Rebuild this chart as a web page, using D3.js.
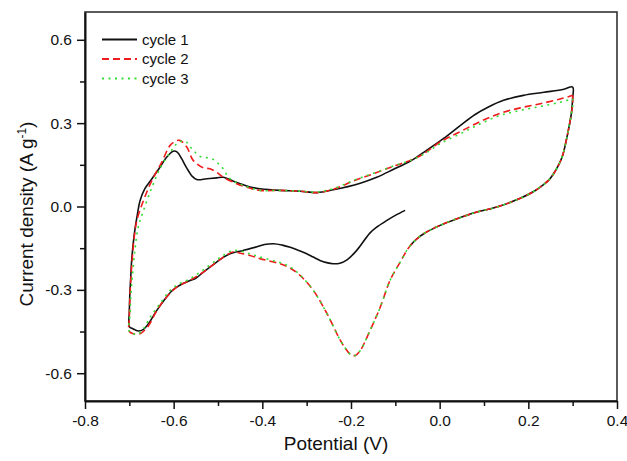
<!DOCTYPE html>
<html>
<head>
<meta charset="utf-8">
<script src="https://cdn.jsdelivr.net/npm/d3@7"></script>
<style>
  body { margin: 0; background: #fff; }
  text { font-family: Arial, "Liberation Sans", sans-serif; fill: #111; }
</style>
</head>
<body>
<svg id="chart"></svg>
<script>
// CV curves, [potential V, current density A/g]
const cycle1 = [
  [-0.078,-0.014],[-0.100,-0.032],[-0.119,-0.050],[-0.140,-0.072],[-0.157,-0.095],
  [-0.187,-0.158],[-0.209,-0.192],[-0.225,-0.204],[-0.240,-0.206],[-0.255,-0.202],
  [-0.270,-0.194],[-0.285,-0.182],[-0.300,-0.170],[-0.320,-0.157],[-0.337,-0.147],[-0.355,-0.139],
  [-0.375,-0.134],[-0.395,-0.137],[-0.412,-0.145],[-0.443,-0.158],[-0.473,-0.170],[-0.490,-0.185],
  [-0.503,-0.200],[-0.533,-0.236],[-0.550,-0.258],[-0.563,-0.266],[-0.580,-0.278],[-0.593,-0.290],
  [-0.605,-0.305],[-0.616,-0.326],[-0.638,-0.374],[-0.657,-0.422],[-0.668,-0.442],[-0.680,-0.448],
  [-0.692,-0.440],[-0.700,-0.432],[-0.700,-0.380],[-0.699,-0.320],[-0.697,-0.260],[-0.695,-0.200],
  [-0.691,-0.130],[-0.687,-0.079],[-0.682,-0.030],[-0.676,0.020],[-0.665,0.064],[-0.649,0.100],
  [-0.631,0.141],[-0.616,0.177],[-0.601,0.199],[-0.592,0.196],[-0.582,0.172],[-0.574,0.148],
  [-0.565,0.124],[-0.559,0.110],[-0.548,0.097],[-0.525,0.100],[-0.503,0.103],[-0.488,0.105],
  [-0.473,0.096],[-0.450,0.082],[-0.428,0.070],[-0.405,0.064],[-0.360,0.058],[-0.315,0.055],
  [-0.277,0.050],[-0.240,0.060],[-0.179,0.084],[-0.142,0.105],[-0.104,0.134],[-0.066,0.164],
  [-0.036,0.195],[0.009,0.245],[0.047,0.292],[0.080,0.331],[0.110,0.358],[0.144,0.382],
  [0.189,0.400],[0.235,0.411],[0.280,0.422],[0.300,0.430],[0.300,0.390],[0.297,0.334],
  [0.291,0.280],[0.287,0.249],[0.281,0.205],[0.276,0.177],[0.267,0.145],[0.257,0.118],
  [0.246,0.095],[0.235,0.080],[0.212,0.054],[0.175,0.025],[0.129,-0.002],[0.084,-0.020],
  [0.039,-0.044],[0.001,-0.068],[-0.036,-0.098],[-0.052,-0.117],[-0.066,-0.140]
];

const cycle2 = [
  [0.300,0.400],[0.300,0.370],[0.297,0.334],[0.291,0.280],[0.287,0.249],[0.281,0.205],
  [0.276,0.177],[0.267,0.145],[0.257,0.118],[0.246,0.095],[0.235,0.080],[0.212,0.054],
  [0.175,0.025],[0.129,-0.002],[0.084,-0.020],[0.039,-0.044],[0.001,-0.068],[-0.036,-0.098],
  [-0.066,-0.140],[-0.089,-0.200],[-0.112,-0.266],[-0.134,-0.362],[-0.157,-0.446],[-0.179,-0.518],
  [-0.190,-0.536],[-0.200,-0.534],[-0.212,-0.512],[-0.224,-0.482],[-0.254,-0.386],[-0.285,-0.302],
  [-0.315,-0.248],[-0.337,-0.222],[-0.360,-0.206],[-0.405,-0.188],[-0.428,-0.176],[-0.450,-0.168],
  [-0.465,-0.163],[-0.490,-0.185],[-0.503,-0.200],[-0.533,-0.236],[-0.563,-0.266],[-0.593,-0.290],
  [-0.616,-0.326],[-0.638,-0.374],[-0.657,-0.430],[-0.676,-0.458],[-0.690,-0.458],[-0.700,-0.450],
  [-0.700,-0.400],[-0.698,-0.300],[-0.694,-0.200],[-0.689,-0.110],[-0.683,-0.050],[-0.668,0.022],
  [-0.649,0.094],[-0.627,0.159],[-0.608,0.220],[-0.595,0.236],[-0.586,0.238],[-0.570,0.213],
  [-0.556,0.166],[-0.533,0.139],[-0.518,0.136],[-0.503,0.123],[-0.488,0.105],[-0.465,0.087],
  [-0.435,0.069],[-0.405,0.058],[-0.360,0.058],[-0.315,0.055],[-0.277,0.050],[-0.240,0.062],
  [-0.194,0.092],[-0.149,0.118],[-0.104,0.145],[-0.066,0.166],[-0.036,0.190],[0.001,0.232],
  [0.047,0.270],[0.092,0.306],[0.137,0.336],[0.182,0.355],[0.227,0.370],[0.272,0.387],
  [0.300,0.400]
];

const cycle3 = [
  [0.300,0.388],[0.300,0.360],[0.297,0.334],[0.291,0.280],[0.287,0.249],[0.281,0.205],
  [0.276,0.177],[0.267,0.145],[0.257,0.118],[0.246,0.095],[0.235,0.080],[0.212,0.054],
  [0.175,0.025],[0.129,-0.002],[0.084,-0.020],[0.039,-0.044],[0.001,-0.068],[-0.036,-0.098],
  [-0.066,-0.140],[-0.089,-0.200],[-0.112,-0.266],[-0.134,-0.362],[-0.157,-0.446],[-0.179,-0.518],
  [-0.190,-0.536],[-0.200,-0.534],[-0.212,-0.512],[-0.224,-0.482],[-0.254,-0.386],[-0.285,-0.302],
  [-0.315,-0.246],[-0.337,-0.218],[-0.360,-0.202],[-0.405,-0.182],[-0.428,-0.170],[-0.465,-0.158],
  [-0.490,-0.178],[-0.503,-0.192],[-0.533,-0.228],[-0.563,-0.260],[-0.590,-0.280],[-0.608,-0.302],
  [-0.631,-0.350],[-0.653,-0.398],[-0.668,-0.440],[-0.682,-0.460],[-0.692,-0.458],[-0.700,-0.450],
  [-0.698,-0.380],[-0.697,-0.330],[-0.693,-0.250],[-0.687,-0.150],[-0.680,-0.075],[-0.668,-0.014],
  [-0.649,0.069],[-0.631,0.136],[-0.608,0.195],[-0.589,0.231],[-0.574,0.235],[-0.559,0.208],
  [-0.540,0.180],[-0.514,0.172],[-0.491,0.141],[-0.473,0.100],[-0.443,0.076],[-0.405,0.058],
  [-0.360,0.058],[-0.315,0.055],[-0.277,0.052],[-0.240,0.064],[-0.194,0.094],[-0.149,0.120],
  [-0.104,0.146],[-0.066,0.166],[-0.036,0.188],[0.001,0.226],[0.047,0.262],[0.092,0.298],
  [0.137,0.328],[0.182,0.346],[0.227,0.360],[0.272,0.375],[0.300,0.388]
];

const seriesNames = ["cycle 1", "cycle 2", "cycle 3"];
const xTicks = [-0.8, -0.6, -0.4, -0.2, 0.0, 0.2, 0.4];
const xMinorTicks = [-0.7, -0.5, -0.3, -0.1, 0.1, 0.3];
const yTicks = [-0.6, -0.3, 0.0, 0.3, 0.6];
const yMinorTicks = [-0.45, -0.15, 0.15, 0.45];

const width = 627, height = 461;
const margin = {top: 12, right: 10, bottom: 60, left: 85};
const innerW = width - margin.left - margin.right;
const innerH = height - margin.top - margin.bottom;

const svg = d3.select('#chart')
  .attr('width', width)
  .attr('height', height);

const chart = svg.append('g')
  .attr('transform', `translate(${margin.left},${margin.top})`);

const xScale = d3.scaleLinear().domain([-0.8, 0.4]).range([0, innerW]);
const yScale = d3.scaleLinear().domain([-0.7, 0.7]).range([innerH, 0]);

const fmt = d => d.toFixed(1);

// frame (top + right)
chart.append('rect')
  .attr('x', 0).attr('y', 0)
  .attr('width', innerW).attr('height', innerH)
  .attr('fill', 'none')
  .attr('stroke', '#333')
  .attr('stroke-width', 1.6);

// minor ticks
chart.append('g')
  .attr('transform', `translate(0,${innerH})`)
  .call(d3.axisBottom(xScale).tickValues(xMinorTicks).tickSize(5).tickFormat(''))
  .call(g => g.select('.domain').remove());
chart.append('g')
  .call(d3.axisLeft(yScale).tickValues(yMinorTicks).tickSize(5).tickFormat(''))
  .call(g => g.select('.domain').remove());

// major axes
const xAxisG = chart.append('g')
  .attr('transform', `translate(0,${innerH})`)
  .call(d3.axisBottom(xScale).tickValues(xTicks).tickSize(8).tickSizeOuter(0).tickPadding(6).tickFormat(fmt));
const yAxisG = chart.append('g')
  .call(d3.axisLeft(yScale).tickValues(yTicks).tickSize(8).tickSizeOuter(0).tickPadding(5).tickFormat(fmt));

chart.selectAll('.tick line').attr('stroke', '#111').attr('stroke-width', 1.5);
[xAxisG, yAxisG].forEach(g => {
  g.select('.domain').attr('stroke', '#111').attr('stroke-width', 2);
  g.selectAll('text').style('font-size', '15.5px').attr('fill', '#111');
});

// curves
const line = d3.line()
  .x(d => xScale(d[0]))
  .y(d => yScale(d[1]))
  .curve(d3.curveCatmullRom.alpha(0.5));

const styles = [
  {color: '#111', dash: null},
  {color: '#ee1c1c', dash: '7,4'},
  {color: '#33dd33', dash: '2,4.5'}
];
[cycle1, cycle2, cycle3].forEach((data, i) => {
  chart.append('path')
    .datum(data)
    .attr('fill', 'none')
    .attr('stroke', styles[i].color)
    .attr('stroke-width', 1.6)
    .attr('stroke-dasharray', styles[i].dash)
    .attr('d', line);
});

// legend
const legend = chart.append('g').attr('transform', 'translate(17,27.5)');
seriesNames.forEach((name, i) => {
  const row = legend.append('g').attr('transform', `translate(0,${i * 19.5})`);
  row.append('line')
    .attr('x1', 0).attr('x2', 35)
    .attr('stroke', styles[i].color)
    .attr('stroke-width', 1.8)
    .attr('stroke-dasharray', styles[i].dash);
  row.append('text')
    .attr('x', 40).attr('y', 5)
    .style('font-size', '15px')
    .text(name);
});

// axis titles
svg.append('text')
  .attr('x', margin.left + innerW / 2 - 15)
  .attr('y', 450)
  .attr('text-anchor', 'middle')
  .style('font-size', '19px')
  .text('Potential (V)');

const yTitle = svg.append('text')
  .attr('transform', 'translate(33,214) rotate(-90)')
  .attr('text-anchor', 'middle')
  .style('font-size', '19px');
yTitle.append('tspan').text('Current density (A g');
yTitle.append('tspan').attr('dy', -7).style('font-size', '12px').text('-1');
yTitle.append('tspan').attr('dy', 7).text(')');
</script>
</body>
</html>
